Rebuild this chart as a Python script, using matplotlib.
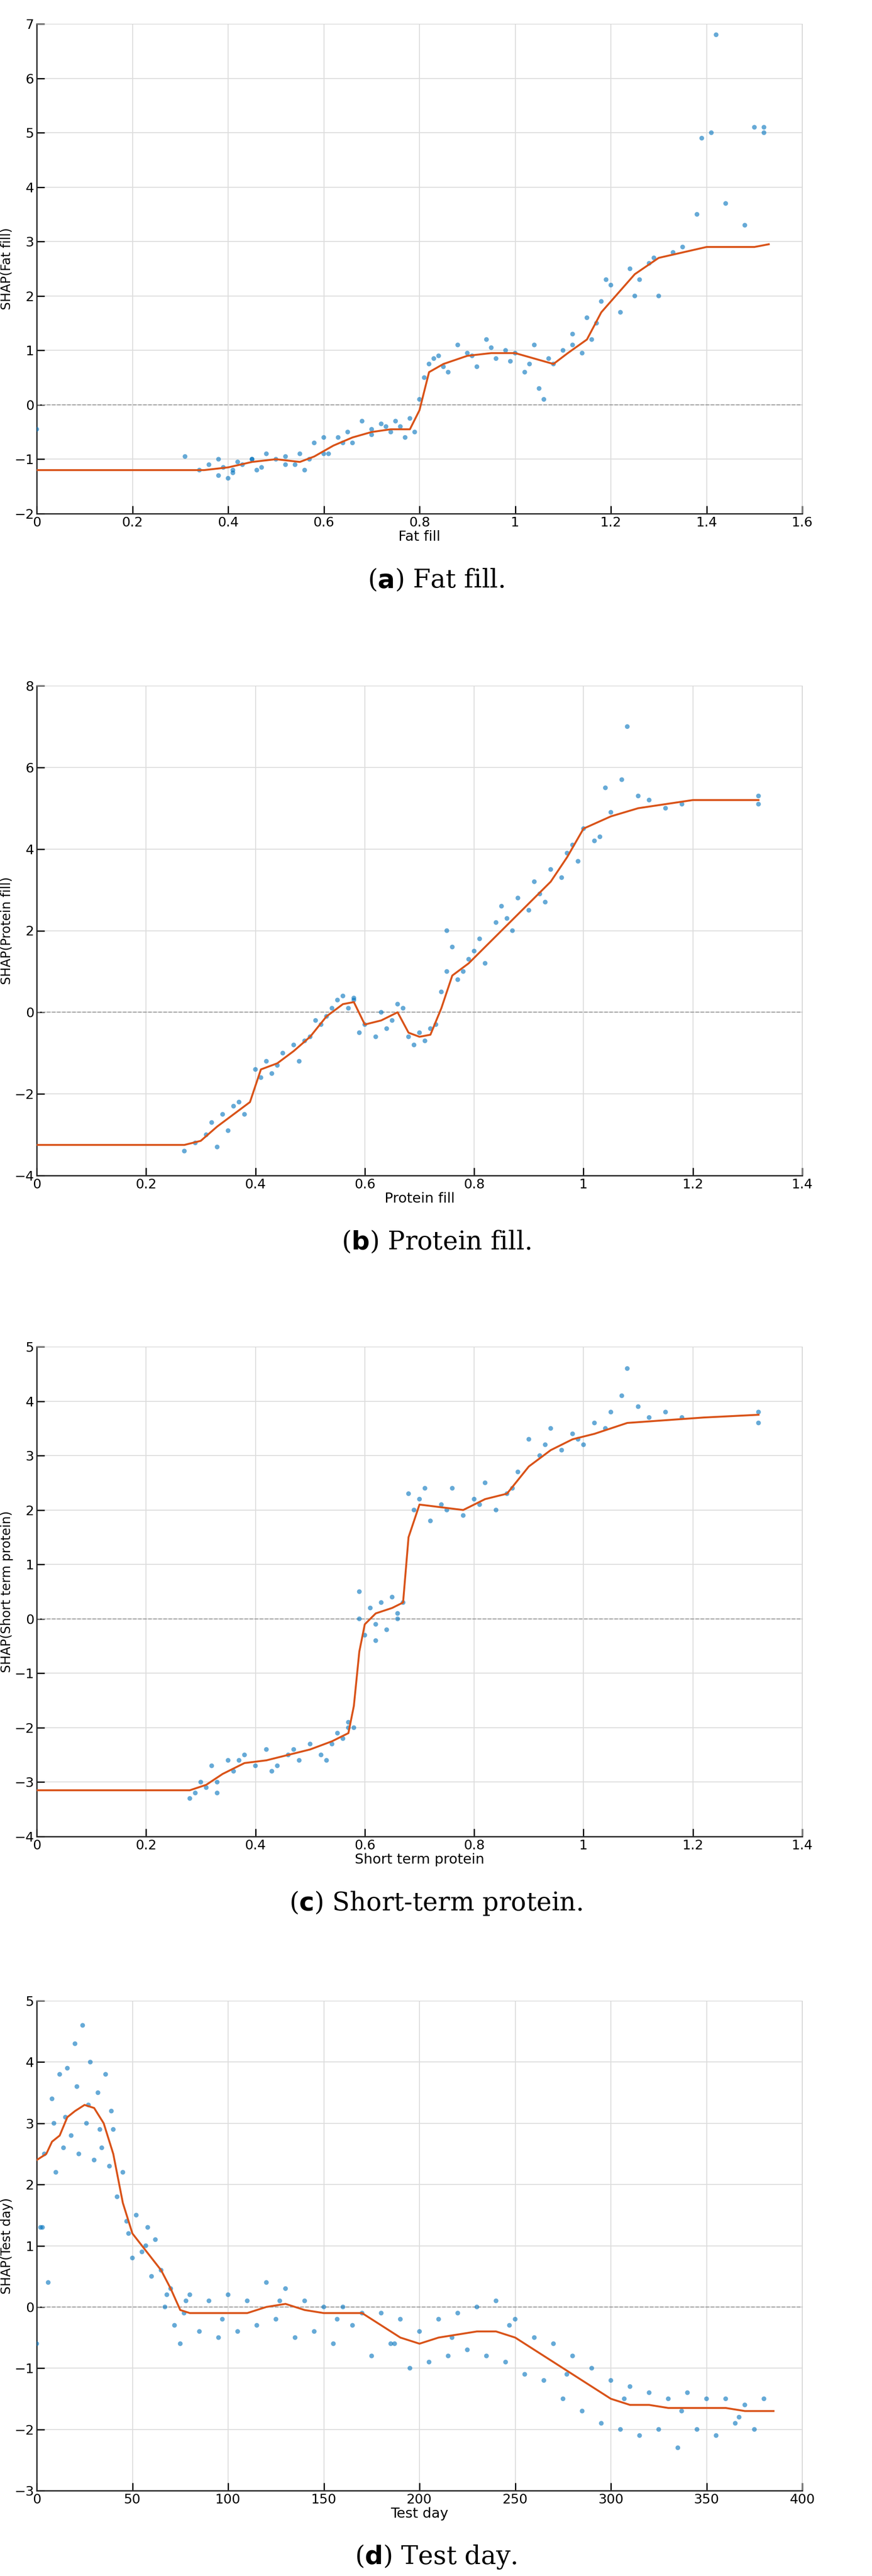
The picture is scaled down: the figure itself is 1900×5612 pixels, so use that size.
import matplotlib.pyplot as plt

W, H = 1900, 5612
BLUE = "#0072BD"
ORANGE = "#D95319"

# ---- panel (a) Fat fill ----
fat_curve_x = [0, 0.35, 0.40, 0.45, 0.50, 0.55, 0.58, 0.62, 0.66, 0.70, 0.74, 0.78, 0.80, 0.82, 0.85, 0.90,
               0.95, 1.00, 1.04, 1.08, 1.11, 1.15, 1.18, 1.21, 1.25, 1.30, 1.35, 1.40, 1.45, 1.50, 1.53]
fat_curve_y = [-1.2, -1.2, -1.15, -1.05, -1.0, -1.05, -0.95, -0.75, -0.6, -0.5, -0.45, -0.45, -0.1, 0.6, 0.75, 0.9,
               0.95, 0.95, 0.85, 0.75, 0.95, 1.2, 1.7, 2.0, 2.4, 2.7, 2.8, 2.9, 2.9, 2.9, 2.95]
fat_x = [0.0, 0.31, 0.34, 0.36, 0.38, 0.39, 0.40, 0.41, 0.42, 0.43, 0.45, 0.46, 0.48, 0.50, 0.52, 0.54, 0.55,
         0.57, 0.58, 0.60, 0.61, 0.63, 0.65, 0.66, 0.68, 0.70, 0.72, 0.74, 0.75, 0.77, 0.78, 0.79,
         0.80, 0.81, 0.82, 0.84, 0.86, 0.88, 0.90, 0.92, 0.94, 0.96, 0.98, 1.00, 1.02, 1.04, 1.05, 1.06,
         1.08, 1.10, 1.12, 1.14, 1.15, 1.16, 1.18, 1.20, 1.22, 1.24, 1.26, 1.28, 1.30, 1.33, 1.35, 1.38,
         1.39, 1.41, 1.42, 1.44, 1.48, 1.50, 1.52, 1.52, 0.41, 0.45, 0.52, 0.60, 0.70, 0.76, 0.85, 0.95,
         1.03, 1.12, 1.19, 1.25, 1.29, 0.38, 0.47, 0.56, 0.64, 0.73, 0.83, 0.91, 0.99, 1.07, 1.17]
fat_y = [-0.45, -0.95, -1.2, -1.1, -1.3, -1.15, -1.35, -1.2, -1.05, -1.1, -1.0, -1.2, -0.9, -1.0, -0.95, -1.1, -0.9,
         -1.0, -0.7, -0.6, -0.9, -0.6, -0.5, -0.7, -0.3, -0.55, -0.35, -0.5, -0.3, -0.6, -0.25, -0.5,
         0.1, 0.5, 0.75, 0.9, 0.6, 1.1, 0.95, 0.7, 1.2, 0.85, 1.0, 0.95, 0.6, 1.1, 0.3, 0.1,
         0.75, 1.0, 1.3, 0.95, 1.6, 1.2, 1.9, 2.2, 1.7, 2.5, 2.3, 2.6, 2.0, 2.8, 2.9, 3.5,
         4.9, 5.0, 6.8, 3.7, 3.3, 5.1, 5.0, 5.1, -1.25, -1.0, -1.1, -0.9, -0.45, -0.4, 0.7, 1.05,
         0.75, 1.1, 2.3, 2.0, 2.7, -1.0, -1.15, -1.2, -0.7, -0.4, 0.85, 0.9, 0.8, 0.85, 1.5]

# ---- panel (b) Protein fill ----
prot_curve_x = [0, 0.27, 0.30, 0.33, 0.36, 0.39, 0.41, 0.44, 0.47, 0.50, 0.53, 0.56, 0.58, 0.60, 0.63, 0.66,
                0.68, 0.70, 0.72, 0.74, 0.76, 0.79, 0.82, 0.85, 0.88, 0.91, 0.94, 0.97, 1.00, 1.05, 1.10,
                1.15, 1.20, 1.25, 1.32]
prot_curve_y = [-3.25, -3.25, -3.15, -2.8, -2.5, -2.2, -1.4, -1.25, -0.95, -0.6, -0.1, 0.2, 0.25, -0.3, -0.2, 0.0,
                -0.5, -0.6, -0.55, 0.1, 0.9, 1.2, 1.6, 2.0, 2.4, 2.8, 3.2, 3.8, 4.5, 4.8, 5.0,
                5.1, 5.2, 5.2, 5.2]
prot_x = [0.27, 0.29, 0.31, 0.32, 0.34, 0.35, 0.37, 0.38, 0.40, 0.41, 0.42, 0.44, 0.45, 0.47, 0.48, 0.50,
          0.51, 0.53, 0.54, 0.55, 0.56, 0.57, 0.58, 0.59, 0.60, 0.62, 0.63, 0.65, 0.66, 0.68, 0.69, 0.70,
          0.71, 0.72, 0.74, 0.75, 0.76, 0.78, 0.79, 0.81, 0.82, 0.84, 0.85, 0.87, 0.88, 0.90, 0.91, 0.93,
          0.94, 0.96, 0.97, 0.99, 1.00, 1.02, 1.04, 1.05, 1.07, 1.08, 1.10, 1.12, 1.15, 1.18, 1.32, 1.32,
          0.75, 0.33, 0.36, 0.43, 0.49, 0.52, 0.58, 0.64, 0.67, 0.73, 0.77, 0.80, 0.86, 0.92, 0.98, 1.03]
prot_y = [-3.4, -3.2, -3.0, -2.7, -2.5, -2.9, -2.2, -2.5, -1.4, -1.6, -1.2, -1.3, -1.0, -0.8, -1.2, -0.6,
          -0.2, -0.1, 0.1, 0.3, 0.4, 0.1, 0.3, -0.5, -0.3, -0.6, 0.0, -0.2, 0.2, -0.6, -0.8, -0.5,
          -0.7, -0.4, 0.5, 1.0, 1.6, 1.0, 1.3, 1.8, 1.2, 2.2, 2.6, 2.0, 2.8, 2.5, 3.2, 2.7,
          3.5, 3.3, 3.9, 3.7, 4.5, 4.2, 5.5, 4.9, 5.7, 7.0, 5.3, 5.2, 5.0, 5.1, 5.3, 5.1,
          2.0, -3.3, -2.3, -1.5, -0.7, -0.3, 0.35, -0.4, 0.1, -0.3, 0.8, 1.5, 2.3, 2.9, 4.1, 4.3]

# ---- panel (c) Short term protein ----
stp_curve_x = [0, 0.28, 0.31, 0.34, 0.38, 0.42, 0.46, 0.50, 0.54, 0.57, 0.58, 0.59, 0.60, 0.62, 0.65, 0.67,
               0.68, 0.70, 0.74, 0.78, 0.82, 0.86, 0.90, 0.94, 0.98, 1.02, 1.08, 1.15, 1.22, 1.32]
stp_curve_y = [-3.15, -3.15, -3.05, -2.85, -2.65, -2.6, -2.5, -2.4, -2.25, -2.1, -1.6, -0.6, -0.1, 0.1, 0.2, 0.3,
               1.5, 2.1, 2.05, 2.0, 2.2, 2.3, 2.8, 3.1, 3.3, 3.4, 3.6, 3.65, 3.7, 3.75]
stp_x = [0.28, 0.29, 0.30, 0.31, 0.32, 0.33, 0.35, 0.36, 0.38, 0.40, 0.42, 0.44, 0.46, 0.48, 0.50, 0.52,
         0.54, 0.55, 0.56, 0.57, 0.58, 0.59, 0.59, 0.60, 0.61, 0.62, 0.63, 0.64, 0.65, 0.66, 0.67,
         0.68, 0.69, 0.70, 0.72, 0.74, 0.76, 0.78, 0.80, 0.82, 0.84, 0.86, 0.88, 0.90, 0.92, 0.94,
         0.96, 0.98, 1.00, 1.02, 1.05, 1.07, 1.08, 1.10, 1.12, 1.15, 1.18, 1.32, 1.32,
         0.33, 0.37, 0.43, 0.47, 0.53, 0.57, 0.62, 0.66, 0.71, 0.75, 0.81, 0.87, 0.93, 0.99, 1.04]
stp_y = [-3.3, -3.2, -3.0, -3.1, -2.7, -3.2, -2.6, -2.8, -2.5, -2.7, -2.4, -2.7, -2.5, -2.6, -2.3, -2.5,
         -2.3, -2.1, -2.2, -1.9, -2.0, 0.5, 0.0, -0.3, 0.2, -0.1, 0.3, -0.2, 0.4, 0.1, 0.3,
         2.3, 2.0, 2.2, 1.8, 2.1, 2.4, 1.9, 2.2, 2.5, 2.0, 2.3, 2.7, 3.3, 3.0, 3.5,
         3.1, 3.4, 3.2, 3.6, 3.8, 4.1, 4.6, 3.9, 3.7, 3.8, 3.7, 3.8, 3.6,
         -3.0, -2.6, -2.8, -2.4, -2.6, -2.0, -0.4, 0.0, 2.4, 2.0, 2.1, 2.4, 3.2, 3.3, 3.5]

# ---- panel (d) Test day ----
td_curve_x = [0, 5, 8, 12, 16, 20, 25, 30, 35, 40, 45, 50, 55, 60, 65, 70, 75, 80, 90, 100, 110, 120, 130,
              140, 150, 160, 170, 180, 190, 200, 210, 220, 230, 240, 250, 260, 270, 280, 290, 300, 310,
              320, 330, 340, 350, 360, 370, 385]
td_curve_y = [2.4, 2.5, 2.7, 2.8, 3.1, 3.2, 3.3, 3.25, 3.0, 2.5, 1.7, 1.2, 1.0, 0.8, 0.6, 0.3, -0.05, -0.1,
              -0.1, -0.1, -0.1, 0.0, 0.05, -0.05, -0.1, -0.1, -0.1, -0.3, -0.5, -0.6, -0.5, -0.45, -0.4,
              -0.4, -0.5, -0.7, -0.9, -1.1, -1.3, -1.5, -1.6, -1.6, -1.65, -1.65, -1.65, -1.65, -1.7, -1.7]
td_x = [0, 2, 4, 6, 8, 10, 12, 14, 16, 18, 20, 22, 24, 26, 28, 30, 32, 34, 36, 38, 40, 42, 45, 48, 50, 52,
        55, 58, 60, 62, 65, 68, 70, 72, 75, 78, 80, 85, 90, 95, 100, 105, 110, 115, 120, 125, 130, 135,
        140, 145, 150, 155, 160, 165, 170, 175, 180, 185, 190, 195, 200, 205, 210, 215, 220, 225, 230,
        235, 240, 245, 250, 255, 260, 265, 270, 275, 280, 285, 290, 295, 300, 305, 310, 315, 320, 325,
        330, 335, 340, 345, 350, 355, 360, 365, 370, 375, 380,
        3, 9, 15, 21, 27, 33, 39, 47, 57, 67, 77, 97, 127, 157, 187, 217, 247, 277, 307, 337, 367]
td_y = [-0.6, 1.3, 2.5, 0.4, 3.4, 2.2, 3.8, 2.6, 3.9, 2.8, 4.3, 2.5, 4.6, 3.0, 4.0, 2.4, 3.5, 2.6, 3.8, 2.3,
        2.9, 1.8, 2.2, 1.2, 0.8, 1.5, 0.9, 1.3, 0.5, 1.1, 0.6, 0.2, 0.3, -0.3, -0.6, 0.1, 0.2, -0.4, 0.1,
        -0.5, 0.2, -0.4, 0.1, -0.3, 0.4, -0.2, 0.3, -0.5, 0.1, -0.4, 0.0, -0.6, 0.0, -0.3, -0.1, -0.8,
        -0.1, -0.6, -0.2, -1.0, -0.4, -0.9, -0.2, -0.8, -0.1, -0.7, 0.0, -0.8, 0.1, -0.9, -0.2, -1.1,
        -0.5, -1.2, -0.6, -1.5, -0.8, -1.7, -1.0, -1.9, -1.2, -2.0, -1.3, -2.1, -1.4, -2.0, -1.5, -2.3,
        -1.4, -2.0, -1.5, -2.1, -1.5, -1.9, -1.6, -2.0, -1.5,
        1.3, 3.0, 3.1, 3.6, 3.3, 2.9, 3.2, 1.4, 1.0, 0.0, -0.1, -0.2, 0.1, -0.2, -0.6, -0.5, -0.3, -1.1,
        -1.5, -1.7, -1.8]

panels = [
    (fat_x, fat_y, fat_curve_x, fat_curve_y, (0, 1.6), [0, 0.2, 0.4, 0.6, 0.8, 1, 1.2, 1.4, 1.6],
     (-2, 7), list(range(-2, 8)), "Fat fill", "SHAP(Fat fill)", "a", "Fat fill.", 1119),
    (prot_x, prot_y, prot_curve_x, prot_curve_y, (0, 1.4), [0, 0.2, 0.4, 0.6, 0.8, 1, 1.2, 1.4],
     (-4, 8), list(range(-4, 9, 2)), "Protein fill", "SHAP(Protein fill)", "b", "Protein fill.", 2561),
    (stp_x, stp_y, stp_curve_x, stp_curve_y, (0, 1.4), [0, 0.2, 0.4, 0.6, 0.8, 1, 1.2, 1.4],
     (-4, 5), list(range(-4, 6)), "Short term protein", "SHAP(Short term protein)", "c",
     "Short-term protein.", 4001),
    (td_x, td_y, td_curve_x, td_curve_y, (0, 400), list(range(0, 401, 50)),
     (-3, 5), list(range(-3, 6)), "Test day", "SHAP(Test day)", "d", "Test day.", 5426),
]

fig = plt.figure(figsize=(W / 100, H / 100), dpi=100)
left, right, ph = 80, 1748, 1067
for (px, py, cx, cy, xl, xt, yl, yt, xlab, ylab, letter, cap, bottom) in panels:
    ax = fig.add_axes([left / W, 1 - bottom / H, (right - left) / W, ph / H])
    ax.scatter(px, py, s=55, color=BLUE, alpha=0.6, edgecolors="none", zorder=3)
    ax.plot(cx, cy, color=ORANGE, lw=3, zorder=4)
    ax.axhline(0, color="#999999", lw=1.5, ls="--", zorder=2)
    ax.set_xlim(xl)
    ax.set_ylim(yl)
    ax.set_xticks(xt)
    ax.set_yticks(yt)
    ax.set_xticklabels([("%g" % v) for v in xt])
    ax.set_yticklabels([("%g" % v).replace("-", "\u2212") for v in yt])
    ax.grid(True, color="#dddddd", lw=1.5)
    ax.set_axisbelow(True)
    ax.tick_params(labelsize=21, direction="in", length=12, width=2, pad=4)
    for sp in ax.spines.values():
        sp.set_color("#d0d0d0")
    ax.spines["left"].set_color("#222222")
    ax.spines["bottom"].set_color("#222222")
    ax.spines["left"].set_linewidth(2)
    ax.spines["bottom"].set_linewidth(2)
    ax.set_xlabel(xlab, fontsize=22, labelpad=2)
    ax.set_ylabel(ylab, fontsize=20, labelpad=2)
    fig.text(0.5, 1 - (bottom + 145) / H, r"($\mathbf{%s}$) %s" % (letter, cap), ha="center",
             va="center", fontsize=40, family="DejaVu Serif")

fig.savefig("out.png", dpi=100, facecolor="white")
